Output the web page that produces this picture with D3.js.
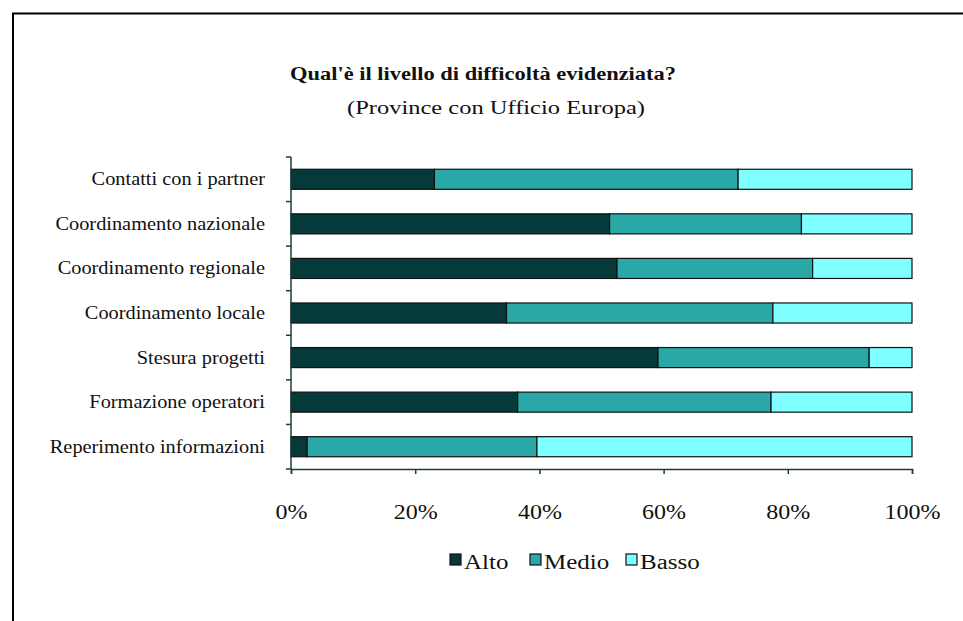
<!DOCTYPE html>
<html><head><meta charset="utf-8">
<script src="https://cdn.jsdelivr.net/npm/d3@7/dist/d3.min.js"></script>
<style>
html,body{margin:0;padding:0;background:#fff;}
svg{display:block;}
text{font-family:"Liberation Serif","Times New Roman",serif;fill:#111;}
</style></head>
<body>
<svg id="chart" width="963" height="621"></svg>
<script>
const categories = ["Contatti con i partner","Coordinamento nazionale","Coordinamento regionale","Coordinamento locale","Stesura progetti","Formazione operatori","Reperimento informazioni"];
const seriesNames = ["Alto","Medio","Basso"];
const alto  = [23.1, 51.3, 52.5, 34.7, 59.1, 36.5, 2.6];
const medio = [48.9, 30.9, 31.5, 42.9, 34.0, 40.8, 37.0];
const basso = [28.0, 17.8, 16.0, 22.4, 6.9, 22.7, 60.4];
const xTicks = [0,20,40,60,80,100];
const colors = ["#063a3a","#2aa8a8","#7fffff"];
const titleText = "Qual'è il livello di difficoltà evidenziata?";
const subtitleText = "(Province con Ufficio Europa)";

const svg = d3.select("#chart");

// frame
svg.append("path").attr("d","M13,621 L13,13.5 L963,13.5").attr("fill","none").attr("stroke","#000").attr("stroke-width",2);

// titles
svg.append("text").attr("x",483).attr("y",80).attr("text-anchor","middle")
  .attr("font-size",18).attr("font-weight","bold")
  .attr("textLength",386).attr("lengthAdjust","spacingAndGlyphs").text(titleText);
svg.append("text").attr("x",496).attr("y",114).attr("text-anchor","middle")
  .attr("font-size",19)
  .attr("textLength",298).attr("lengthAdjust","spacingAndGlyphs").text(subtitleText);

const x = d3.scaleLinear().domain([0,100]).range([291,912]);
const y = d3.scaleBand().domain(categories).range([157,469]).paddingInner(0.55).paddingOuter(0.275);

const data = categories.map((c,i)=>({cat:c, Alto:alto[i], Medio:medio[i], Basso:basso[i]}));
const stack = d3.stack().keys(seriesNames)(data);

const g = svg.append("g");
stack.forEach((layer,li)=>{
  g.selectAll(null).data(layer).enter().append("rect")
    .attr("x",d=>x(d[0]))
    .attr("y",d=>y(d.data.cat))
    .attr("width",d=>x(d[1])-x(d[0]))
    .attr("height",y.bandwidth())
    .attr("fill",colors[li])
    .attr("stroke","#111").attr("stroke-width",1.2);
});

// y axis line and ticks
const axCol = "#1c3c3c";
svg.append("line").attr("x1",x(0)).attr("x2",x(0)).attr("y1",y.range()[0]).attr("y2",y.range()[1])
  .attr("stroke",axCol).attr("stroke-width",1.5);
d3.range(categories.length+1).forEach(i=>{
  const yy = y.range()[0] + i*y.step();
  svg.append("line").attr("x1",x(0)-5).attr("x2",x(0)).attr("y1",yy).attr("y2",yy)
    .attr("stroke",axCol).attr("stroke-width",1.5);
});

// category labels
categories.forEach(c=>{
  svg.append("text").attr("transform",`translate(265,${y(c)+y.bandwidth()/2+6}) scale(1.1,1)`)
    .attr("text-anchor","end").attr("font-size",18.5).text(c);
});

// x axis
const xAxis = svg.append("g").attr("transform",`translate(0,${y.range()[1]})`)
  .call(d3.axisBottom(x).tickValues(xTicks).tickFormat(d=>d+"%").tickSize(5).tickPadding(31));
xAxis.select(".domain").attr("stroke",axCol).attr("stroke-width",1.5);
xAxis.selectAll(".tick line").attr("stroke",axCol).attr("stroke-width",1.5);
xAxis.selectAll(".tick text").attr("font-size",20).attr("font-family","Liberation Serif, serif")
  .attr("fill","#111").attr("transform","scale(1.2,1)");

// legend
const legX = [450, 530, 626];
seriesNames.forEach((s,i)=>{
  svg.append("rect").attr("x",legX[i]).attr("y",554).attr("width",11).attr("height",11)
    .attr("fill",colors[i]).attr("stroke","#111").attr("stroke-width",1.2);
  svg.append("text").attr("transform",`translate(${legX[i]+14},569) scale(1.25,1)`)
    .attr("font-size",20).text(s);
});
</script>
</body></html>
